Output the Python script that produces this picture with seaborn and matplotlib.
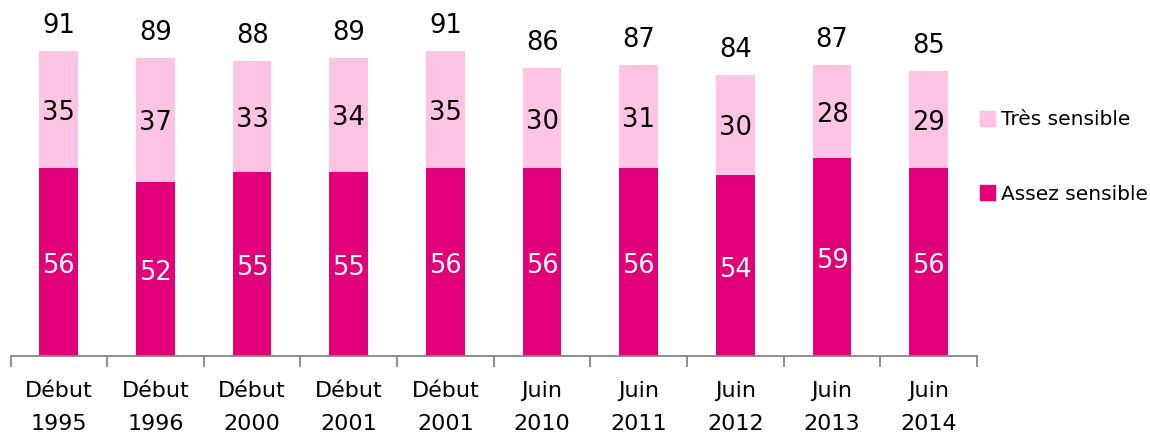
import matplotlib
matplotlib.use("Agg")
import matplotlib.pyplot as plt
import seaborn as sns
import pandas as pd
from matplotlib.patches import Patch
from matplotlib.ticker import FixedLocator

categories = ["Début\n1995", "Début\n1996", "Début\n2000", "Début\n2001", "Début\n2001",
              "Juin\n2010", "Juin\n2011", "Juin\n2012", "Juin\n2013", "Juin\n2014"]
assez = [56, 52, 55, 55, 56, 56, 56, 54, 59, 56]
tres = [35, 37, 33, 34, 35, 30, 31, 30, 28, 29]
totals = [a + t for a, t in zip(assez, tres)]

c_assez = "#E2007A"
c_tres = "#FFC4E4"

sns.set_theme(style="white")
plt.rcParams['font.family'] = ['DejaVu Sans']
plt.rcParams['text.color'] = 'black'

keys = [f"k{i}" for i in range(len(categories))]
df = pd.DataFrame({"key": keys, "assez": assez, "tres": tres, "total": totals})

fig = plt.figure(figsize=(11.5, 4.34), dpi=100)
ax = fig.add_axes([10.5 / 1150, 78 / 434, (977 - 10.5) / 1150, 356 / 434])

sns.barplot(data=df, x="key", y="total", color=c_tres, width=0.40, ax=ax,
            saturation=1, order=keys, errorbar=None, linewidth=0)
sns.barplot(data=df, x="key", y="assez", color=c_assez, width=0.40, ax=ax,
            saturation=1, order=keys, errorbar=None, linewidth=0)

ax.set_xlim(-0.5, len(categories) - 0.5)
ax.set_ylim(0, 106.3)
ax.set_xlabel("")
ax.set_ylabel("")
ax.set_yticks([])
for s in ["top", "right", "left"]:
    ax.spines[s].set_visible(False)
ax.spines["bottom"].set_color("#868686")
ax.spines["bottom"].set_linewidth(1.3)

ax.set_xticks(range(len(categories)))
ax.set_xticklabels(categories, fontsize=16, linespacing=1.8)
ax.tick_params(axis="x", which="major", length=0, pad=18, colors="black")
ax.xaxis.set_minor_locator(FixedLocator([i - 0.5 for i in range(len(categories) + 1)]))
ax.tick_params(axis="x", which="minor", length=8, width=1.3, color="#868686", direction="out", bottom=True)

for i, (a, t, tot) in enumerate(zip(assez, tres, totals)):
    ax.text(i, a / 2 - 1.2, f"{a}", ha="center", va="center", color="white", fontsize=18.5)
    ax.text(i, a + t / 2 - 1.0, f"{t}", ha="center", va="center", color="black", fontsize=18.5)
    ax.text(i, tot + 3.6, f"{tot}", ha="center", va="bottom", color="black", fontsize=18.5)

handles = [Patch(color=c_tres, label="Très sensible"), Patch(color=c_assez, label="Assez sensible")]
fig.legend(handles=handles, loc="center left", bbox_to_anchor=(962 / 1150, 1 - 157 / 434),
           frameon=False, fontsize=14.5, handlelength=0.75, handleheight=0.75,
           handletextpad=0.3, labelspacing=2.75, labelcolor="black")

fig.savefig("out.png", dpi=100)
